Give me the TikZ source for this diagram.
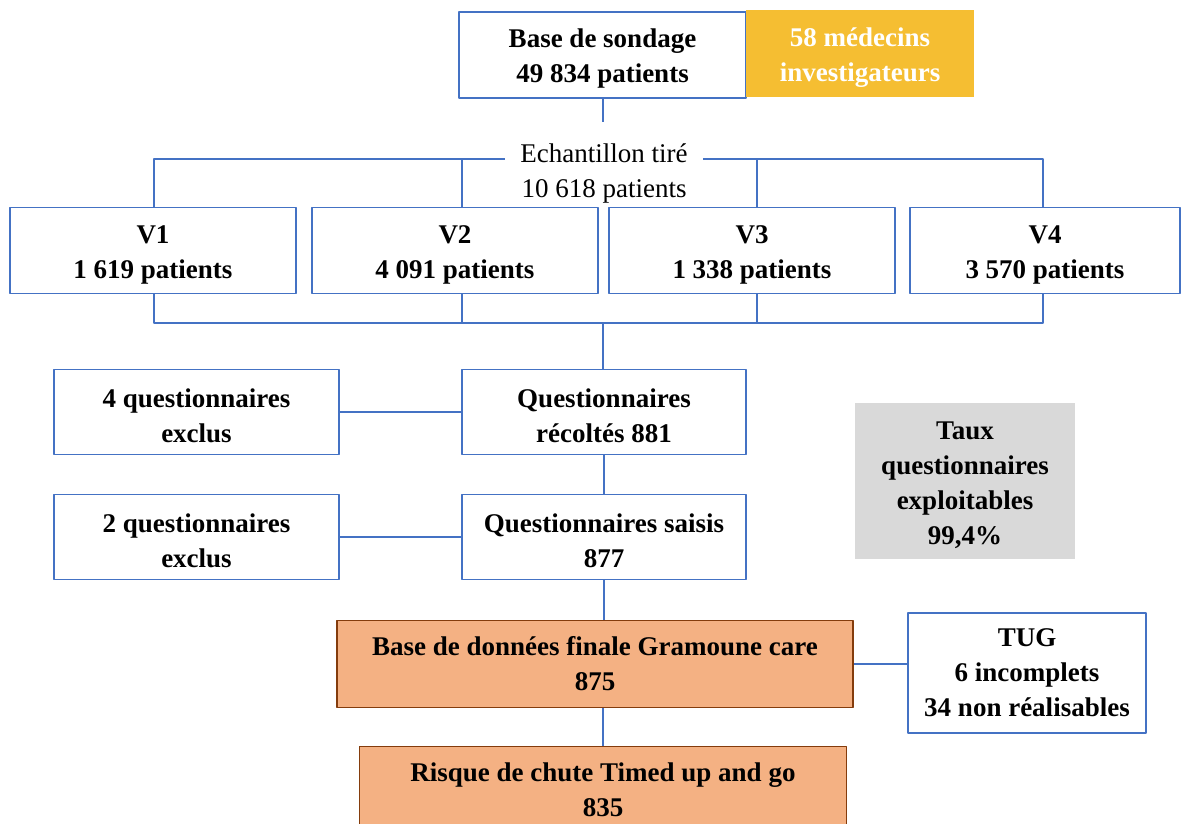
\documentclass[tikz,border=0pt]{standalone}
\usepackage{fontspec}
\setmainfont{Liberation Serif}
\usetikzlibrary{positioning,calc}
\definecolor{lineblue}{RGB}{68,114,196}
\definecolor{gold}{RGB}{245,190,50}
\definecolor{peach}{RGB}{244,177,131}
\definecolor{rust}{RGB}{132,60,12}
\definecolor{lightgray}{RGB}{217,217,217}
\newcommand{\boxstrut}{\rule{0pt}{26pt}}
\tikzset{
	txt/.style={font=\bfseries\fontsize{27}{35}\selectfont, align=center, inner sep=0pt},
	box/.style={txt, draw=lineblue, line width=1.8pt, minimum height=86pt},
	final/.style={txt, fill=peach, draw=rust, line width=1.8pt, minimum height=87pt},
	link/.style={lineblue, line width=1.8pt}
}

\begin{document}
\begin{tikzpicture}[x=1pt, y=-1pt, line join=round]
		\useasboundingbox (0,0) rectangle (1192,823);
		\clip (0,0) rectangle (1192,823);
		% top
		\node[box, minimum width=287pt] (base) at (602.5,55) {\boxstrut Base de sondage\\49 834 patients};
		\node[txt, fill=gold, text=white, minimum width=228pt, minimum height=87pt] (med) at (860,53.5) {\boxstrut 58 médecins\\investigateurs};
		\node[txt, font=\fontsize{27}{35}\selectfont, minimum width=198pt] (ech) at (604,170) {\boxstrut Echantillon tiré\\10 618 patients};
		\coordinate (stub) at (603,122);
		\coordinate (top) at (603,159);
		\coordinate (bot) at (603,323);
		% visites
		\node[box, minimum width=286pt] (v1) at (153,250.5) {\boxstrut V1\\1 619 patients};
		\node[box, minimum width=286pt] (v2) at (455,250.5) {\boxstrut V2\\4 091 patients};
		\node[box, minimum width=286pt] (v3) at (752,250.5) {\boxstrut V3\\1 338 patients};
		\node[box, minimum width=270pt] (v4) at (1045,250.5) {\boxstrut V4\\3 570 patients};
		% questionnaires
		\node[box, minimum width=284pt, minimum height=85pt] (qrec) at (604,412) {\boxstrut Questionnaires\\récoltés 881};
		\node[box, minimum width=285pt, minimum height=85pt] (qex1) at (196.5,412) {\boxstrut 4 questionnaires\\exclus};
		\node[box, minimum width=284pt, minimum height=85pt] (qsai) at (604,537) {\boxstrut Questionnaires saisis\\877};
		\node[box, minimum width=285pt, minimum height=85pt] (qex2) at (196.5,537) {\boxstrut 2 questionnaires\\exclus};
		\node[txt, fill=lightgray, minimum width=220pt, minimum height=156pt] (taux) at (965,481) {\boxstrut Taux\\questionnaires\\exploitables\\99,4\%};
		% base finale
		\node[final, minimum width=516pt] (fin) at (595,664) {Base de données finale Gramoune care\\875};
		\node[box, minimum width=238pt, minimum height=120pt] (tug) at (1027,673) {TUG\\6 incomplets\\34 non réalisables};
		\node[final, minimum width=487pt] (risk) at (603,790) {Risque de chute Timed up and go\\835};
		% liens
		\draw[link] (base.south -| stub) -- (stub);
		\draw[link] (ech.west |- top) -| ($(v1.north)+(1,0)$) (ech.east |- top) -| ($(v4.north)+(-2,0)$);
		\foreach \v/\dx in {v2/7,v3/5}{\draw[link] ($(\v.north)+(\dx,0)$) -- ($(\v.north |- top)+(\dx,0)$);}
		\draw[link] ($(v1.south)+(1,0)$) |- ($(v4.south |- bot)+(-2,0)$) -- ($(v4.south)+(-2,0)$);
		\foreach \v/\dx in {v2/7,v3/5}{\draw[link] ($(\v.south)+(\dx,0)$) -- ($(\v.south |- bot)+(\dx,0)$);}
		\draw[link] (bot) -- (bot |- qrec.north);
		\draw[link] (qex1) -- (qrec) (qex2) -- (qsai);
		\draw[link] (qrec) -- (qsai) (qsai.south) -- (qsai.south |- fin.north);
		\draw[link] (fin.east) -- (fin.east -| tug.west);
		\draw[link] (risk.north) -- (risk.north |- fin.south);
		\end{tikzpicture}
\end{document}
